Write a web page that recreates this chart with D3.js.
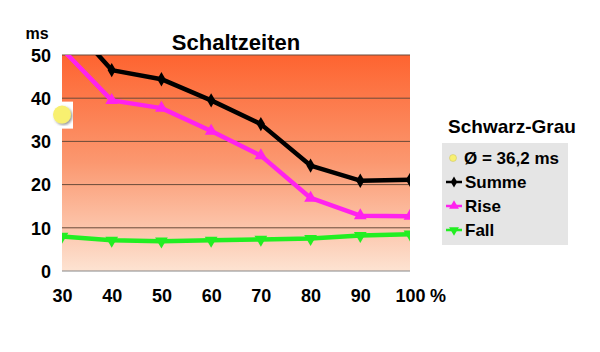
<!DOCTYPE html>
<html lang="de">
<head>
<meta charset="UTF-8">
<title>Schaltzeiten</title>
<script src="https://d3js.org/d3.v7.min.js"></script>
<style>
  body { margin: 0; background: #fff; }
  text { font-family: "Liberation Sans", Arial, sans-serif; font-weight: bold; }
</style>
</head>
<body>
<div class="chartContainer"></div>
<script>
// Daten
const prozent = [30, 40, 50, 60, 70, 80, 90, 100];
const summe = [59.4, 46.5, 44.4, 39.5, 34.0, 24.4, 20.9, 21.1];
const rise  = [51.4, 39.5, 37.7, 32.4, 26.7, 16.9, 12.8, 12.7];
const fall  = [8.0, 7.1, 6.9, 7.1, 7.3, 7.5, 8.2, 8.5];
const mittel = 36.2;
const yTicks = [0, 10, 20, 30, 40, 50];

const width = 600, height = 352;
const plot = { left: 62, right: 410, top: 55, bottom: 271 };

const svg = d3.select(".chartContainer").append("svg")
  .attr("width", width).attr("height", height);

const x = d3.scaleLinear().domain([30, 100]).range([plot.left, plot.right]);
const y = d3.scaleLinear().domain([0, 50]).range([plot.bottom, plot.top]);

const defs = svg.append("defs");
const grad = defs.append("linearGradient").attr("id", "bg")
  .attr("x1", 0).attr("y1", 0).attr("x2", 0).attr("y2", 1);
grad.append("stop").attr("offset", "0%").attr("stop-color", "#fe6430");
grad.append("stop").attr("offset", "50%").attr("stop-color", "#fb9870");
grad.append("stop").attr("offset", "100%").attr("stop-color", "#fde3d2");
defs.append("clipPath").attr("id", "clip").append("rect")
  .attr("x", plot.left).attr("y", plot.top)
  .attr("width", plot.right - plot.left).attr("height", plot.bottom - plot.top);
const shadow = defs.append("filter").attr("id", "shadow");
shadow.append("feDropShadow").attr("dx", 1.5).attr("dy", 1.5)
  .attr("stdDeviation", 1).attr("flood-color", "#555").attr("flood-opacity", 0.6);

// Hintergrund
svg.append("rect")
  .attr("x", plot.left).attr("y", plot.top)
  .attr("width", plot.right - plot.left).attr("height", plot.bottom - plot.top)
  .attr("fill", "url(#bg)");

// Gitter
svg.append("g").selectAll("line").data(yTicks).enter().append("line")
  .attr("x1", plot.left).attr("x2", plot.right)
  .attr("y1", d => y(d)).attr("y2", d => y(d))
  .attr("stroke", d => d === 0 ? "#888" : "#6a4a3a")
  .attr("stroke-width", 1);

// Achsen
const yAxis = svg.append("g")
  .attr("transform", `translate(${plot.left - 11},0)`)
  .call(d3.axisLeft(y).tickValues(yTicks).tickSize(0).tickPadding(0));
yAxis.select(".domain").remove();
yAxis.selectAll("text").attr("font-size", 18).attr("fill", "#000").attr("dy", "0.35em");

const xAxis = svg.append("g")
  .attr("transform", `translate(0,${plot.bottom + 18})`)
  .call(d3.axisBottom(x).tickValues(prozent).tickSize(0).tickPadding(0));
xAxis.select(".domain").remove();
xAxis.selectAll("text").attr("font-size", 18).attr("fill", "#000").attr("dy", "0.71em");

svg.append("text").attr("x", 438).attr("y", 289).attr("dy", "0.71em").attr("font-size", 18)
  .attr("text-anchor", "middle").text("%");
svg.append("text").attr("x", 37).attr("y", 39).attr("font-size", 16)
  .attr("text-anchor", "middle").text("ms");

// Titel
svg.append("text").attr("x", 236).attr("y", 50).attr("font-size", 22)
  .attr("text-anchor", "middle").text("Schaltzeiten");

// Linien
const series = [
  { name: "Summe", values: summe, color: "#000000", symbol: d3.symbolDiamond, size: 60, rot: 0 },
  { name: "Rise", values: rise, color: "#ff22ee", symbol: d3.symbolTriangle, size: 70, rot: 0 },
  { name: "Fall", values: fall, color: "#22ee22", symbol: d3.symbolTriangle, size: 70, rot: 180 }
];

const line = d3.line()
  .x((d, i) => x(prozent[i]))
  .y(d => y(d))
  .curve(d3.curveLinear);

const g = svg.append("g").attr("clip-path", "url(#clip)");
series.forEach(s => {
  g.append("path").datum(s.values)
    .attr("d", line).attr("fill", "none")
    .attr("stroke", s.color).attr("stroke-width", 4.5)
    .attr("stroke-linejoin", "round");
  g.selectAll(null).data(s.values).enter().append("path")
    .attr("d", d3.symbol().type(s.symbol).size(s.size))
    .attr("transform", (d, i) => `translate(${x(prozent[i])},${y(d)}) rotate(${s.rot})`)
    .attr("fill", s.color);
});

// Mittelwert-Punkt
svg.append("rect").attr("x", x(30) - 10).attr("y", y(mittel) - 13)
  .attr("width", 21).attr("height", 27).attr("fill", "#fff");
svg.append("circle")
  .attr("cx", x(30)).attr("cy", y(mittel)).attr("r", 9)
  .attr("fill", "#f8f070").attr("filter", "url(#shadow)");

// Legende
svg.append("text").attr("x", 512).attr("y", 133).attr("font-size", 19)
  .attr("text-anchor", "middle").text("Schwarz-Grau");
svg.append("rect").attr("x", 442).attr("y", 143).attr("width", 126).attr("height", 102)
  .attr("fill", "#e5e5e5");

const legend = svg.append("g");
const ly = d3.scalePoint().domain(["mittel", ...series.map(s => s.name)]).range([158, 230]);

legend.append("circle").attr("cx", 453).attr("cy", ly("mittel")).attr("r", 3.5)
  .attr("fill", "#f8f070").attr("stroke", "#c8c060").attr("stroke-width", 0.5);
legend.append("text").attr("x", 464).attr("y", ly("mittel")).attr("dy", "0.35em")
  .attr("font-size", 17).text("Ø = 36,2 ms");

series.forEach(s => {
  const yy = ly(s.name);
  legend.append("line").attr("x1", 446).attr("x2", 462).attr("y1", yy).attr("y2", yy)
    .attr("stroke", s.color).attr("stroke-width", 2.5);
  legend.append("path").attr("d", d3.symbol().type(s.symbol).size(s.size * 0.6))
    .attr("transform", `translate(454,${yy}) rotate(${s.rot})`).attr("fill", s.color);
  legend.append("text").attr("x", 465).attr("y", yy).attr("dy", "0.35em")
    .attr("font-size", 17).text(s.name);
});
</script>
</body>
</html>
